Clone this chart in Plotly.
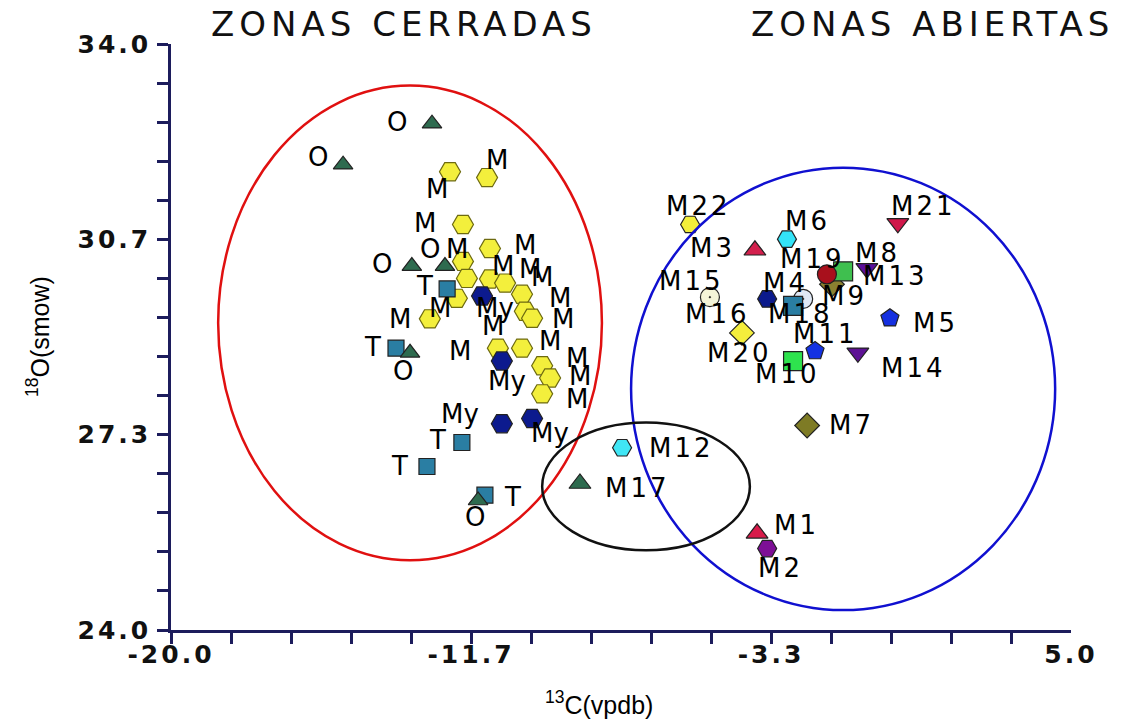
import plotly.graph_objects as go

# ---------------- data ----------------
# Closed zones (left cluster)
o_x = [-12.75, -15.22, -13.31, -12.39, -13.36, -11.47]
o_y = [32.64, 31.94, 30.21, 30.21, 28.73, 26.21]
t_x = [-12.33, -13.75, -11.92, -12.89, -11.28]
t_y = [29.82, 28.81, 27.20, 26.79, 26.30]
my_x = [-11.36, -10.81, -10.81, -9.97]
my_y = [29.70, 28.59, 27.52, 27.61]
m_x = [-12.25, -11.22, -11.89, -11.14, -11.89, -11.78, -11.14, -10.72, -10.25,
       -10.17, -9.97, -12.81, -12.06, -10.92, -10.25, -9.69, -9.47, -9.69]
m_y = [31.82, 31.72, 30.92, 30.51, 30.29, 30.00, 29.99, 29.92, 29.73,
       29.44, 29.32, 29.31, 29.66, 28.81, 28.81, 28.51, 28.30, 28.03]

# Open zones (named samples)
open_names = ["M1", "M2", "M3", "M4", "M5", "M6", "M7", "M8", "M9", "M10", "M11",
              "M12", "M13", "M14", "M15", "M16", "M17", "M18", "M19", "M20", "M21", "M22"]
open_x = [-3.72, -3.44, -3.78, -3.44, -0.03, -2.89, -2.33, -0.67, -1.64, -2.72, -2.11,
          -7.47, -1.33, -0.92, -5.03, -2.44, -8.64, -2.72, -1.78, -4.14, 0.19, -5.58]
open_y = [25.65, 25.39, 30.48, 29.65, 29.32, 30.67, 27.49, 30.17, 29.90, 28.59, 28.76,
          27.11, 30.12, 28.73, 29.68, 29.65, 26.50, 29.53, 30.07, 29.07, 30.94, 30.92]

x_tick_labels = ["-20.0", "-11.7", "-3.3", "5.0"]
y_tick_labels = ["34.0", "30.7", "27.3", "24.0"]

# ---------------- styles ----------------
open_symbols = ["triangle-up", "hexagon2", "triangle-up", "hexagon2", "pentagon", "hexagon2",
                "diamond", "triangle-down", "diamond", "square", "pentagon", "hexagon2",
                "square", "triangle-down", "circle-dot", "circle-dot", "triangle-up", "square",
                "circle", "diamond", "triangle-down", "hexagon2"]
open_colors = ["#d81b4a", "#7d0f96", "#d3204d", "#0b1a8c", "#1530e0", "#33e3f7",
               "#7e7b25", "#5b0f9b", "#8a8030", "#2ee34e", "#1432e3", "#40e6f5",
               "#3fbf4f", "#5e1295", "#f4f4d8", "#dfe8f5", "#2e6b4f", "#2a7ea3",
               "#a8101c", "#f4ee3c", "#d0184a", "#f2ee3a"]
# label offsets in pixels (dx right, dy down)
open_ldx = [39, 13, -42, 18, 46, 21, 44, 11, 13, -6, 10, 59, 52, 56, -18, -86, 58, 7, -14, -2, 26, 8]
open_ldy = [-8, 19, -2, -16, 5, -18, 0, -15, 12, 13, -17, 0, 5, 15, -16, 15, 4, 8, -15, 20, -17, -18]

o_ldx = [-35, -25, -30, -15, -7, -3]
o_ldy = [-2, -8, -2, -17, 18, 17]
t_ldx = [-23, -24, -24, -27, 28]
t_ldy = [-3, -1, -2, -1, 2]
my_ldx = [13, 5, -42, 18]
my_ldy = [12, 20, -10, 15]
m_ldx = [-13, 10, -38, 35, -6, 36, 40, 37, 38, 38, -39, -30, -17, -38, 28, 35, 30, 35]
m_ldy = [17, -18, -1, -4, -12, -12, -10, -6, 4, 8, 8, 0, 10, 3, -7, -8, -2, 5]

# zone ellipses (data coords)
red_ell = [-18.69, 25.19, -8.03, 33.29]
blue_ell = [-7.22, 24.34, 4.56, 31.89]
black_ell = [-9.69, 25.36, -3.92, 27.54]

AXIS = "#1c1c5c"
LABEL_FONT = dict(family="DejaVu Sans, Arial, sans-serif", size=26, color="black")


def spaced(s, px):
    return '<span style="letter-spacing:%dpx">%s</span>' % (px, s)


fig = go.Figure()


def add_group(xs, ys, symbol, color, size, lcolor="#222222"):
    fig.add_trace(go.Scatter(
        x=xs, y=ys, mode="markers", showlegend=False, hoverinfo="skip",
        marker=dict(symbol=symbol, size=size, color=color,
                    line=dict(color=lcolor, width=1.2))))


add_group(m_x, m_y, "hexagon2", "#f3ef3c", 21, "#6d6a10")
add_group(my_x, my_y, "hexagon2", "#0c1a8e", 21)
add_group(t_x, t_y, "square", "#2a7ea3", 16)
add_group(o_x, o_y, "triangle-up", "#2e6b4f", 17)

fig.add_trace(go.Scatter(
    x=open_x, y=open_y, mode="markers", showlegend=False, hoverinfo="skip",
    marker=dict(symbol=open_symbols, size=19, color=open_colors,
                line=dict(color="#222222", width=1.2))))

annotations = []


def add_labels(xs, ys, text, dxs, dys, sp=0):
    for i in range(len(xs)):
        t = text[i] if isinstance(text, list) else text
        if sp:
            t = spaced(t, sp)
        annotations.append(dict(x=xs[i], y=ys[i], xref="x", yref="y", text=t,
                                showarrow=False, xanchor="center", yanchor="middle",
                                xshift=dxs[i], yshift=-dys[i], font=LABEL_FONT))


add_labels(m_x, m_y, "M", m_ldx, m_ldy)
add_labels(my_x, my_y, "My", my_ldx, my_ldy)
add_labels(t_x, t_y, "T", t_ldx, t_ldy)
add_labels(o_x, o_y, "O", o_ldx, o_ldy)
add_labels(open_x, open_y, open_names, open_ldx, open_ldy, sp=3)

TITLE_FONT = dict(family="DejaVu Sans, Arial, sans-serif", size=34, color="#111111")
annotations.append(dict(text=spaced("ZONAS CERRADAS", 5),
                        xref="paper", yref="paper", x=(404 - 171) / 900,
                        y=1, yshift=20, showarrow=False, xanchor="center", yanchor="middle",
                        font=TITLE_FONT))
annotations.append(dict(text=spaced("ZONAS ABIERTAS", 5),
                        xref="paper", yref="paper", x=(932 - 171) / 900,
                        y=1, yshift=20, showarrow=False, xanchor="center", yanchor="middle",
                        font=TITLE_FONT))
AX_TITLE_FONT = dict(family="Liberation Sans Narrow, Liberation Sans, Arial, sans-serif",
                     size=25, color="black")
annotations.append(dict(text="<sup>13</sup>C(vpdb)", xref="paper", yref="paper",
                        x=(599 - 171) / 900, y=0, yshift=-73, showarrow=False,
                        xanchor="center", yanchor="middle", font=AX_TITLE_FONT))
annotations.append(dict(text="<sup>18</sup>O(smow)", xref="paper", yref="paper",
                        x=0, xshift=-133, y=0.5, showarrow=False, textangle=-90,
                        xanchor="center", yanchor="middle", font=AX_TITLE_FONT))

shapes = []
for ell, col in [(red_ell, "#e01010"), (blue_ell, "#1010d0"), (black_ell, "#111111")]:
    shapes.append(dict(type="circle", xref="x", yref="y", x0=ell[0], y0=ell[1],
                       x1=ell[2], y1=ell[3], line=dict(color=col, width=2.5),
                       fillcolor="rgba(0,0,0,0)", layer="above"))

x0, x1 = -20.0, 5.0
y0, y1 = 24.0, 34.0
x_minor = [x0 + (x1 - x0) * i / 15 for i in range(15)]
x_major = [x0 + (x1 - x0) * i / 3 for i in range(4)]
y_minor = [y0 + (y1 - y0) * i / 15 for i in range(16)]
y_major = [y1 - (y1 - y0) * i / 3 for i in range(4)]

TICK_FONT = dict(family="DejaVu Sans, Arial, sans-serif", size=25, color="#111111",
                 weight="bold")

fig.update_layout(
    width=1129, height=724,
    margin=dict(l=171, r=58, t=44, b=94),
    paper_bgcolor="white", plot_bgcolor="white",
    annotations=annotations, shapes=shapes,
    xaxis=dict(range=[x0, x1], showgrid=False, zeroline=False, showline=True,
               linecolor=AXIS, linewidth=2.5, ticks="", tickvals=x_major,
               ticktext=[spaced(s, 3) for s in x_tick_labels], tickfont=TICK_FONT,
               minor=dict(ticks="outside", tickvals=x_minor, ticklen=11, tickwidth=2.5,
                          tickcolor=AXIS, showgrid=False)),
    yaxis=dict(range=[y0, y1], showgrid=False, zeroline=False, showline=True,
               linecolor=AXIS, linewidth=2.5, ticks="", tickvals=y_major,
               ticktext=[spaced(s, 3) for s in y_tick_labels], tickfont=TICK_FONT,
               ticklabelstandoff=12,
               minor=dict(ticks="outside", tickvals=y_minor, ticklen=11, tickwidth=2.5,
                          tickcolor=AXIS, showgrid=False)),
)

fig.write_html("out.html", config={"displayModeBar": False},
               post_script="document.body.style.margin='0px';document.body.style.padding='0px';")
